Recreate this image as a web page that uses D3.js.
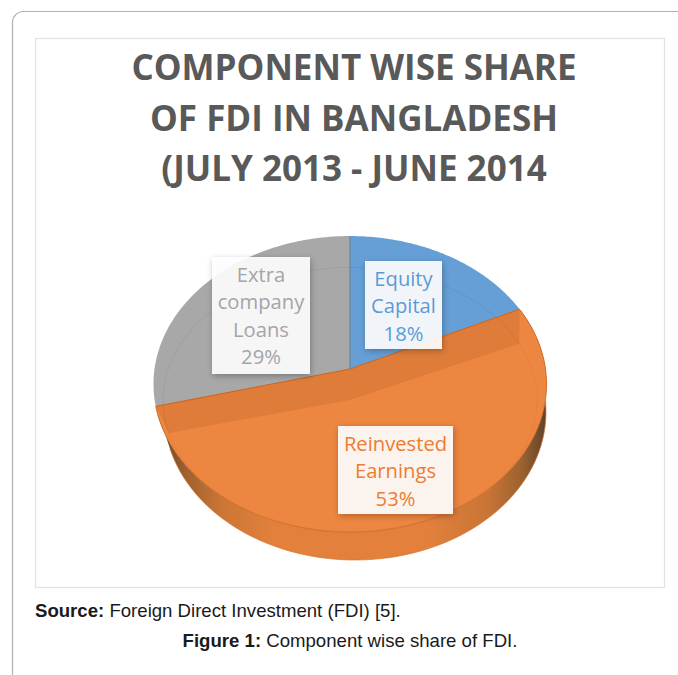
<!DOCTYPE html>
<html><head><meta charset="utf-8">
<script src="https://cdnjs.cloudflare.com/ajax/libs/d3/7.8.5/d3.min.js"></script>
<style>html,body{margin:0;padding:0;background:#fff}svg{display:block}</style>
</head><body><svg id="c" width="678" height="675"></svg>
<script>
const categories = ["Equity Capital", "Reinvested Earnings", "Extra company Loans"];
const values = [18, 53, 29];
const labelLines = [["Equity","Capital","18%"],["Reinvested","Earnings","53%"],["Extra","company","Loans","29%"]];
const sliceColors = ["#659fd6","#ed8640","#a8a8a8"];
const labelColors = ["#5b9bd5","#ed7d31","#a5a5a5"];
const titleLines = ["COMPONENT WISE SHARE","OF FDI IN BANGLADESH","(JULY 2013 - JUNE 2014"];

const svg = d3.select("#c");
const defs = svg.append("defs");
const wallGrad = defs.append("linearGradient").attr("id","wall");
[[0,"#5f4128"],[.03,"#74502c"],[.08,"#a0622f"],[.17,"#cb7636"],[.3,"#e2803c"],[.7,"#e2803c"],[.85,"#c97535"],[.94,"#9a6030"],[.985,"#6b4a2c"],[1,"#5f4128"]]
  .forEach(([o,c])=>wallGrad.append("stop").attr("offset",o).attr("stop-color",c));
const blur = defs.append("filter").attr("id","sh").attr("x","-20%").attr("y","-20%").attr("width","140%").attr("height","140%");
blur.append("feDropShadow").attr("dx",1).attr("dy",2).attr("stdDeviation",3).attr("flood-color","#000").attr("flood-opacity",.3);

// page frame
svg.append("path").attr("d","M12.5 675V23a11 11 0 0 1 11-11.5H678").attr("fill","none").attr("stroke","#b0b0b0").attr("stroke-width",1.2);
svg.append("rect").attr("x",35.5).attr("y",38.5).attr("width",629).attr("height",549).attr("fill","#fff").attr("stroke","#e2e2e2").attr("stroke-width",1.2);

// title
svg.append("g").selectAll("text").data(titleLines).join("text")
  .attr("x",354).attr("y",(d,i)=>80+i*50.5).attr("text-anchor","middle")
  .attr("font-family","Open Sans").attr("font-weight",700).attr("font-size",35).attr("fill","#595959").text(d=>d);

// projected pie: rim is a perspective view of a circle, the inner ring a plain ellipse
const cx = 350;
const rim = a=>{const u=Math.sin(a),v=-Math.cos(a),w=1-0.1014*v;
  return [cx+195.5*u/w,(109*v+369)/w];};
const inner = a=>[cx+187*Math.sin(a),400-132.5*Math.cos(a)];
const base = a=>[cx+5+191*Math.sin(a),412-148*Math.cos(a)];
const hub = [cx,369], innerHub=[cx,400];
const pie = d3.pie().sort(null).value(d=>d);
const arcs = pie(values);
const line = d3.line();
const samples = (s,e,f)=>d3.range(0,81).map(i=>f(s+(e-s)*i/80));
const orange = arcs[1];

// wall
const wallPts = samples(orange.startAngle,orange.endAngle,rim)
   .concat(samples(orange.endAngle,orange.startAngle,base));
svg.append("path").attr("d",line(wallPts)+"Z").attr("fill","url(#wall)");
svg.append("path").attr("d",line(samples(orange.startAngle,orange.endAngle,base))).attr("fill","none").attr("stroke","#d9772f").attr("stroke-width",.7);

// top faces
svg.append("g").selectAll("path").data(arcs).join("path")
  .attr("d",d=>line([hub,...samples(d.startAngle,d.endAngle,rim)])+"Z")
  .attr("fill",(d,i)=>sliceColors[i]);

// orange bevel
svg.append("path").attr("d",line([rim(orange.startAngle),hub,rim(orange.endAngle),inner(orange.endAngle),innerHub,inner(orange.startAngle)])+"Z")
  .attr("fill","#df7c3a");
svg.append("path").attr("d",line([rim(orange.startAngle),hub,rim(orange.endAngle)])).attr("fill","none").attr("stroke","#c9641f").attr("stroke-width",1);
svg.append("path").attr("d",line(samples(orange.startAngle,orange.endAngle,inner))).attr("fill","none").attr("stroke","#d06a24").attr("stroke-width",.8).attr("opacity",.25);
svg.append("path").attr("d",line(samples(orange.startAngle,orange.endAngle,rim))).attr("fill","none").attr("stroke","#cf6c28").attr("stroke-width",.9);
// inner ring on the other slices
[0,2].forEach(i=>svg.append("path").attr("d",line(samples(arcs[i].startAngle,arcs[i].endAngle,inner))).attr("fill","none").attr("stroke","#000").attr("stroke-opacity",.06));
svg.append("path").attr("d",line([rim(0),hub])).attr("stroke","#6f8296").attr("stroke-width",1.2).attr("fill","none");

// labels
const boxes = [[365,261,77,88],[338,426,115,88],[212,257,98,117]];
const lab = svg.append("g").attr("font-family","Open Sans").attr("font-size",20.2).attr("text-anchor","middle");
boxes.forEach(([x,y,w,h],i)=>{
  lab.append("rect").attr("x",x).attr("y",y).attr("width",w).attr("height",h).attr("fill","#fff").attr("fill-opacity",.9).attr("filter","url(#sh)");
  labelLines[i].forEach((t,j)=>lab.append("text").attr("x",x+w/2).attr("y",y+24.5+j*27.6).attr("fill",labelColors[i]).text(t));
});

// captions
const cap = svg.append("g").attr("font-family","Liberation Sans").attr("font-size",18.6).attr("fill","#1a1a1a");
const s = cap.append("text").attr("x",35).attr("y",617);
s.append("tspan").attr("font-weight",700).text("Source:");
s.append("tspan").text(" Foreign Direct Investment (FDI) [5].");
const f = cap.append("text").attr("x",350).attr("y",647).attr("text-anchor","middle");
f.append("tspan").attr("font-weight",700).text("Figure 1:");
f.append("tspan").text(" Component wise share of FDI.");
</script></body></html>
